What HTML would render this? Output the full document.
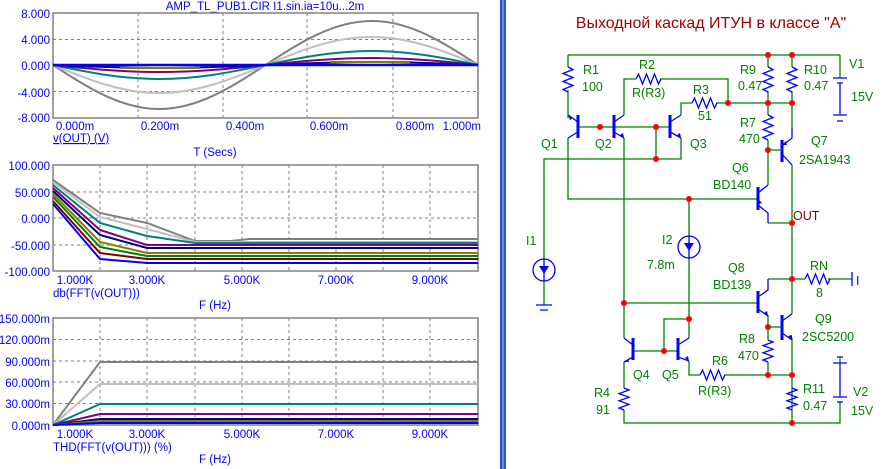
<!DOCTYPE html>
<html><head><meta charset="utf-8"><style>
html,body{margin:0;padding:0;background:#fff;width:884px;height:469px;overflow:hidden}
svg{display:block}
.ax{font-family:"Liberation Sans",sans-serif;font-size:11.5px;fill:#0000ff}
.lb{font-family:"Liberation Sans",sans-serif;font-size:12.5px;fill:#008000}
.g{stroke:#008000;stroke-width:1.3;fill:none}
.b{stroke:#0000ff;stroke-width:1.3;fill:none}
.bb{stroke:#0000ff;stroke-width:3;fill:none}
.grid{stroke:#808080;stroke-width:1;stroke-dasharray:3,3;fill:none}
.fr{stroke:#808080;stroke-width:1.5;fill:none}
</style></head><body>
<svg width="884" height="469" viewBox="0 0 884 469" xmlns="http://www.w3.org/2000/svg">
<rect x="0" y="0" width="884" height="469" fill="#fff"/>
<rect x="500" y="0" width="6" height="469" fill="#2a55c8"/>
<rect x="502" y="0" width="2" height="469" fill="#6a8ae0"/>

<!-- Plot 1 -->
<text class="ax" x="265" y="10" text-anchor="middle">AMP_TL_PUB1.CIR I1.sin.ia=10u...2m</text>
<path class="grid" d="M53,39.5H478M53,65H478M53,91.5H478M138,13V118M223,13V118M307,13V118M393,13V118"/>
<rect class="fr" x="53" y="13" width="425" height="105"/>
<g class="ax" text-anchor="end">
<text x="50" y="18">8.000</text><text x="50" y="44">4.000</text><text x="50" y="70">0.000</text><text x="50" y="97">-4.000</text><text x="50" y="122">-8.000</text>
</g>
<g class="ax" text-anchor="middle">
<text x="75" y="130">0.000m</text><text x="160" y="130">0.200m</text><text x="245" y="130">0.400m</text><text x="329" y="130">0.600m</text><text x="415" y="130">0.800m</text><text x="481" y="130" text-anchor="end">1.000m</text>
</g>
<text class="ax" x="53" y="142" text-decoration="underline">v(OUT) (V)</text>
<text class="ax" x="215" y="156" text-anchor="middle">T (Secs)</text>
<g fill="none" stroke-width="2">
<path stroke="#808080" d="M53,65C87.65,87.5 120.8,109 159.25,109C197.7,109 230.85,87.5 265.5,65C300.15,42.5 333.3,21 371.75,21C410.2,21 443.35,42.5 478,65"/>
<path stroke="#c0c0c0" d="M53,65C87.65,79.3 120.8,93 159.25,93C197.7,93 230.85,79.3 265.5,65C300.15,50.7 333.3,37 371.75,37C410.2,37 443.35,50.7 478,65"/>
<path stroke="#008080" d="M53,65C87.65,72.2 120.8,79 159.25,79C197.7,79 230.85,72.2 265.5,65C300.15,57.8 333.3,51 371.75,51C410.2,51 443.35,57.8 478,65"/>
<path stroke="#800080" d="M53,65C87.65,68.6 120.8,72 159.25,72C197.7,72 230.85,68.6 265.5,65C300.15,61.4 333.3,58 371.75,58C410.2,58 443.35,61.4 478,65"/>
<path stroke="#000080" d="M53,65C87.65,66.5 120.8,68 159.25,68C197.7,68 230.85,66.5 265.5,65C300.15,63.5 333.3,62 371.75,62C410.2,62 443.35,63.5 478,65"/>
<path stroke="#808000" d="M120,68H200M330,62H410"/>
<path stroke="#0000ff" stroke-width="2.5" d="M53,65H478"/>
</g>

<!-- Plot 2 -->
<path class="grid" d="M53,192H478M53,218H478M53,245H478M100,165V271M147,165V271M195,165V271M242,165V271M289,165V271M336,165V271M383,165V271M430,165V271"/>
<rect class="fr" x="53" y="165" width="425" height="106"/>
<g class="ax" text-anchor="end">
<text x="50" y="170">100.000</text><text x="50" y="197">50.000</text><text x="50" y="223">0.000</text><text x="50" y="250">-50.000</text><text x="50" y="276">-100.000</text>
</g>
<g class="ax" text-anchor="middle">
<text x="75" y="284">1.000K</text><text x="147" y="284">3.000K</text><text x="242" y="284">5.000K</text><text x="336" y="284">7.000K</text><text x="430" y="284">9.000K</text>
</g>
<text class="ax" x="53" y="297">db(FFT(v(OUT)))</text>
<text class="ax" x="215" y="309" text-anchor="middle">F (Hz)</text>
<g fill="none" stroke-width="2">
<path stroke="#808080" d="M53,180L100,213L147,223L195,241H230L250,239H478"/>
<path stroke="#c0c0c0" d="M53,182L100,217L147,229L195,242H478"/>
<path stroke="#008080" d="M53,185L100,223L147,236L195,243H478"/>
<path stroke="#800080" d="M53,188L100,230L147,245H478"/>
<path stroke="#000080" d="M53,191L100,235L147,248H478"/>
<path stroke="#808000" d="M53,194L100,242L147,253H478"/>
<path stroke="#008000" d="M53,197L100,247L147,256H478"/>
<path stroke="#800000" d="M53,201L100,253L147,259H478"/>
<path stroke="#0000ff" d="M53,204L100,259L147,263H478"/>
</g>

<!-- Plot 3 -->
<path class="grid" d="M53,339.5H478M53,361H478M53,382H478M53,403.5H478M100,318V425M147,318V425M195,318V425M242,318V425M289,318V425M336,318V425M383,318V425M430,318V425"/>
<rect class="fr" x="53" y="318" width="425" height="107"/>
<g class="ax" text-anchor="end">
<text x="50" y="323">150.000m</text><text x="50" y="344">120.000m</text><text x="50" y="366">90.000m</text><text x="50" y="387">60.000m</text><text x="50" y="408">30.000m</text><text x="50" y="430">0.000m</text>
</g>
<g class="ax" text-anchor="middle">
<text x="75" y="438">1.000K</text><text x="147" y="438">3.000K</text><text x="242" y="438">5.000K</text><text x="336" y="438">7.000K</text><text x="430" y="438">9.000K</text>
</g>
<text class="ax" x="53" y="451">THD(FFT(v(OUT))) (%)</text>
<text class="ax" x="215" y="463" text-anchor="middle">F (Hz)</text>
<g fill="none" stroke-width="2">
<path stroke="#808080" d="M53,425L100,362H478"/>
<path stroke="#c0c0c0" d="M53,425L100,384H478"/>
<path stroke="#008080" d="M53,425L100,404H478"/>
<path stroke="#800080" d="M53,425L100,414H478"/>
<path stroke="#000080" d="M53,425L100,419H478"/>
<path stroke="#808000" d="M53,425L100,421H478"/>
<path stroke="#0000ff" d="M53,425L100,423H478"/>
</g>

<!-- Schematic -->
<text x="711" y="28" text-anchor="middle" font-family="Liberation Sans,sans-serif" font-size="16" fill="#a00000">Выходной каскад ИТУН в классе "А"</text>

<path class="g" d="M568,55H840M568,55V67M568,90V118M568,138V199H758
M624,115V79H636M660,79H728V103M681,115V103H692M716,103H792
M768,55V67M768,91V115M768,140V185M792,55V67M792,91V128M792,165V279M840,55V78
M578,127H670M656,127V159M681,138V159H544V259M544,281V305
M689,199V236M689,258V338M792,223H768
M624,138V338M624,303H758M768,279H805M828,279H852M768,315V340M768,362V375
M792,314V279M792,338V423M689,361V375H700M724,375H792
M664,351V319H689M633,351H678M624,362V388M624,410V423H840V402M840,363V357"/>
<g class="b">
<path d="M568,67l5,2.5l-10,4l10,4l-10,4l10,4l-10,4l5,2.5"/>
<path d="M768,67l5,2.5l-10,4l10,4l-10,4l10,4l-10,4l5,2.5"/>
<path d="M792,67l5,2.5l-10,4l10,4l-10,4l10,4l-10,4l5,2.5"/>
<path d="M768,115l5,2.5l-10,4l10,4l-10,4l10,4l-10,4l5,2.5"/>
<path d="M768,340l5,2l-10,3.6l10,3.6l-10,3.6l10,3.6l-10,3.6l5,2"/>
<path d="M792,388l5,2l-10,3.6l10,3.6l-10,3.6l10,3.6l-10,3.6l5,2"/>
<path d="M624,388l5,2l-10,3.6l10,3.6l-10,3.6l10,3.6l-10,3.6l5,2"/>
<path d="M636,79l2.5,-5l4,10l4,-10l4,10l4,-10l4,10l2.5,-5"/>
<path d="M692,103l2.5,-5l4,10l4,-10l4,10l4,-10l4,10l2.5,-5"/>
<path d="M700,375l2.5,-5l4,10l4,-10l4,10l4,-10l4,10l2.5,-5"/>
<path d="M805,279l2.5,-5l4,10l4,-10l4,10l4,-10l4,10l2.5,-5"/>
<path d="M852,272V286"/>
<path d="M578,122L568,115M578,132L568,138"/>
<path d="M614,122L624,115M614,132L624,138"/>
<path d="M670,122L681,115M670,132L681,138"/>
<path d="M782,146L792,138V128M782,154L792,165"/>
<path d="M758,193L768,185M758,205L768,213V223"/>
<path d="M758,297L768,290V279M758,309L768,316"/>
<path d="M782,321L792,314M782,333L792,340"/>
<path d="M633,345L624,338M633,357L624,362"/>
<path d="M678,345L689,338M678,357L689,361"/>
<circle cx="544" cy="270" r="11"/><path d="M544,259V281"/>
<circle cx="689" cy="247" r="11"/><path d="M689,236V258"/>
<path d="M536,305H552M540,310H548"/>
<path d="M833,78H847M837,83H843M840,83V115M833,115H847M837,121H843"/>
<path d="M837,357H843M833,363H847M840,363V397M833,397H847M837,402H843"/>
</g>
<g class="bb">
<path d="M578,115V138M614,115V138M670,115V138M782,140V162M758,187V210M758,291V313M782,315V340M633,338V360M678,338V360"/>
</g>
<g fill="#0000ff">
<path d="M573,118l-5,-3l2,5z"/><path d="M620,135l4,3l-1,-5z"/><path d="M677,135l4,3l-1,-5z"/>
<path d="M786,141l-4,4l5,0z"/><path d="M762,203l-4,-4l1,5z"/><path d="M764,313l4,3l-1,-5z"/>
<path d="M788,336l4,4l0,-5z"/><path d="M628,359l-4,3l5,0z"/><path d="M685,358l4,3l-1,-5z"/>
<path d="M539,266h10l-5,8z"/><path d="M684,243h10l-5,8z"/>
</g>
<g fill="#ff0000">
<circle cx="768" cy="55" r="3"/><circle cx="792" cy="55" r="3"/><circle cx="728" cy="103" r="3"/><circle cx="768" cy="103" r="3"/><circle cx="792" cy="103" r="3"/>
<circle cx="768" cy="150" r="3"/><circle cx="600" cy="127" r="3"/><circle cx="656" cy="127" r="3"/><circle cx="656" cy="159" r="3"/>
<circle cx="689" cy="199" r="3"/><circle cx="792" cy="223" r="3"/><circle cx="624" cy="303" r="3"/><circle cx="689" cy="319" r="3"/>
<circle cx="792" cy="279" r="3"/><circle cx="768" cy="327" r="3"/><circle cx="664" cy="351" r="3"/><circle cx="768" cy="375" r="3"/>
<circle cx="792" cy="375" r="3"/><circle cx="792" cy="423" r="3"/>
</g>
<path class="g" d="M768,150H782M768,327H782"/>
<g class="lb">
<text x="583" y="74">R1</text><text x="582" y="91">100</text>
<text x="639" y="69">R2</text><text x="632" y="97">R(R3)</text>
<text x="693" y="94">R3</text><text x="698" y="120">51</text>
<text x="740" y="74">R9</text><text x="738" y="90">0.47</text>
<text x="804" y="74">R10</text><text x="804" y="90">0.47</text>
<text x="849" y="68">V1</text><text x="851" y="101">15V</text>
<text x="740" y="127">R7</text><text x="739" y="143">470</text>
<text x="811" y="145">Q7</text><text x="799" y="164">2SA1943</text>
<text x="732" y="172">Q6</text><text x="713" y="189">BD140</text>
<text x="541" y="148">Q1</text><text x="595" y="148">Q2</text><text x="690" y="148">Q3</text>
<text x="526" y="245">I1</text><text x="662" y="244">I2</text><text x="647" y="269">7.8m</text>
<text x="728" y="272">Q8</text><text x="713" y="289">BD139</text>
<text x="810" y="270">RN</text><text x="816" y="297">8</text>
<text x="815" y="323">Q9</text><text x="802" y="341">2SC5200</text>
<text x="739" y="343">R8</text><text x="738" y="360">470</text>
<text x="712" y="365">R6</text><text x="698" y="395">R(R3)</text>
<text x="633" y="379">Q4</text><text x="662" y="379">Q5</text>
<text x="594" y="397">R4</text><text x="596" y="414">91</text>
<text x="803" y="393">R11</text><text x="803" y="410">0.47</text>
<text x="853" y="396">V2</text><text x="851" y="415">15V</text>
</g>
<text x="793" y="220" font-family="Liberation Sans,sans-serif" font-size="12.5" fill="#800000">OUT</text>
<text x="856" y="285" font-family="Liberation Sans,sans-serif" font-size="12.5" fill="#0000ff">I</text>
</svg>
</body></html>
